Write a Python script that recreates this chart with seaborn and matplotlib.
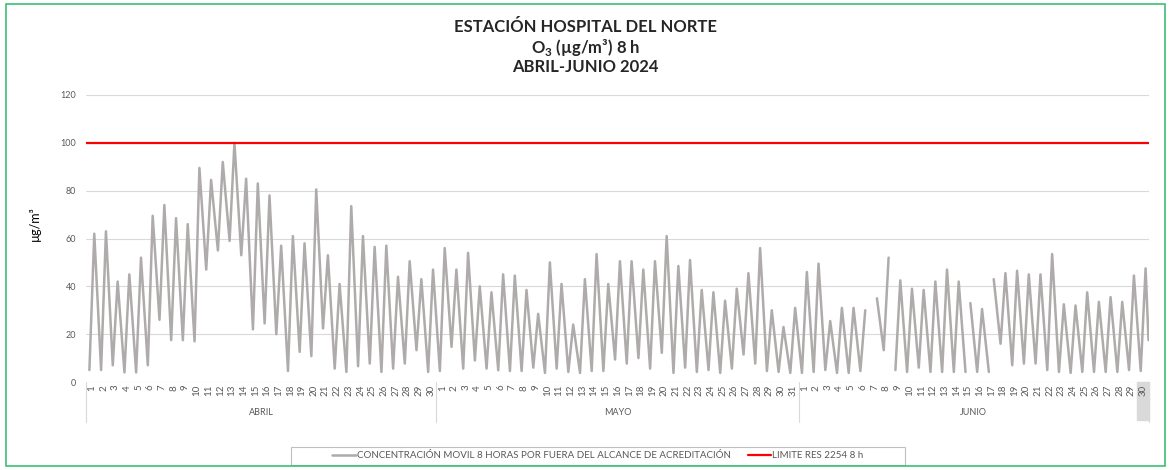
import numpy as np
import pandas as pd
import matplotlib.pyplot as plt
import matplotlib.transforms as mtransforms
from matplotlib.lines import Line2D
from matplotlib.patches import Rectangle
import seaborn as sns

# Valores (ug/m3): minimo de la madrugada y maximo de la tarde de cada dia
MESES = ["ABRIL", "MAYO", "JUNIO"]

ABRIL_MIN = [5, 5, 7, 4, 4, 7, 26, 17.5, 17.5, 17, 47, 55, 59, 53, 22,
             24.5, 20, 4.6, 12.6, 10.8, 22.4, 5.6, 4.2, 6.6, 7.7, 4.2, 5.6, 7.7, 13.3, 4.2]
ABRIL_MAX = [62, 63, 42, 45, 52, 69.5, 74, 68.5, 66, 89.5, 84.5, 92, 100, 85, 83,
             78, 57, 61, 58, 80.5, 53, 41, 73.5, 61, 56.5, 57, 44, 50.5, 43, 47]

MAYO_MIN = [4.6, 14.7, 5.6, 9, 5.6, 4.9, 4.6, 4.6, 6, 3.8, 5.6, 4.2, 3.8, 4.6, 4.6, 9.4,
            7.7, 10, 5.6, 12.2, 3.8, 6, 4.2, 5, 3.8, 5.6, 11.5, 7.7, 4.6, 4.2, 3.8]
MAYO_MAX = [56, 47, 54, 40, 37.5, 45, 44.5, 38.5, 28.5, 50, 41, 24, 43, 53.5, 41, 50.5,
            50.5, 47, 50.5, 61, 48.5, 51, 38.5, 37.5, 34, 39, 45.5, 56, 30, 23, 31]

JUNIO_MIN = [3.8, 4.2, 5, 3.8, 3.8, 4.6, np.nan, 13.3, 5, 4.2, 6, 4.2, 4.2, 4.2, 4.2,
             4.2, 4.2, 16, 7, 7.7, 7.7, 5, 4.2, 3.8, 4.2, 4.2, 4.2, 4.2, 5, 4.6]
JUNIO_MAX = [46, 49.5, 25.5, 31, 31, 30, 35, 52, 42.5, 39, 38.5, 42, 47, 42, 33,
             30.5, 43, 45.5, 46.5, 45, 45, 53.5, 32.5, 32, 37.5, 33.5, 35.5, 33.5, 44.5, 47.5]

VALOR_FINAL = 17.5   # ultimo dato del 30 de junio
LIMITE = 100         # limite Res. 2254 (8 h)

# horas sin dato (mes, dia, hora)
HUECOS = [("JUNIO", 8, 21), ("JUNIO", 15, 11), ("JUNIO", 17, 11)]

HORA_MIN = 7
HORA_MAX = 17

GRIS = "#AFABAB"
ROJO = "#FF0000"
TEXTO = "#595959"
REJILLA = "#D9D9D9"

# ---- armar la serie ----
inicio = {}
filas = []
dia0 = 0
for mes, mins, maxs in zip(MESES, [ABRIL_MIN, MAYO_MIN, JUNIO_MIN], [ABRIL_MAX, MAYO_MAX, JUNIO_MAX]):
    inicio[mes] = dia0
    for i, (lo, hi) in enumerate(zip(mins, maxs)):
        filas.append((dia0 + i + HORA_MIN / 24, lo))
        filas.append((dia0 + i + HORA_MAX / 24, hi))
    dia0 += len(mins)
total_dias = dia0
filas.append((total_dias - 1 + 23 / 24, VALOR_FINAL))
for mes, dia, hora in HUECOS:
    filas.append((inicio[mes] + dia - 1 + hora / 24, np.nan))

df = pd.DataFrame(filas, columns=["dia", "o3"]).sort_values("dia")
df["tramo"] = df["o3"].isna().cumsum()
df = df.dropna()

# ---- figura ----
sns.set_style("white")
plt.rcParams["font.family"] = ["Lato", "DejaVu Sans"]
plt.rcParams["mathtext.fontset"] = "custom"
plt.rcParams["mathtext.bf"] = "Lato:bold"
plt.rcParams["mathtext.rm"] = "Lato:bold"

fig = plt.figure(figsize=(11.71, 4.70), dpi=100)
ax = fig.add_axes([86 / 1171, 88 / 470, 1063 / 1171, 287 / 470])

sns.lineplot(data=df, x="dia", y="o3", units="tramo", estimator=None, sort=False,
             color=GRIS, lw=1.8, ax=ax, legend=False,
             solid_joinstyle="round", solid_capstyle="round")
ax.axhline(LIMITE, color=ROJO, lw=1.6, zorder=3)

ax.set_xlim(0, total_dias)
ax.set_ylim(0, 120)
ax.set_yticks(range(0, 121, 20))
ax.grid(axis="y", color=REJILLA, lw=0.8)
ax.grid(axis="x", visible=False)
ax.set_axisbelow(True)
for s in ax.spines.values():
    s.set_visible(False)
ax.set_xlabel("")
ax.set_ylabel("")

# etiquetas de dias
etiquetas = []
for mes, n in zip(MESES, [len(ABRIL_MIN), len(MAYO_MIN), len(JUNIO_MIN)]):
    etiquetas += [str(d) for d in range(1, n + 1)]
ax.set_xticks(np.arange(total_dias) + 0.5)
ax.set_xticklabels(etiquetas, rotation=90)
ax.tick_params(axis="x", length=0, pad=2, labelsize=7, labelcolor=TEXTO)
ax.tick_params(axis="y", length=0, pad=7, labelsize=6.5, labelcolor=TEXTO)

trans = mtransforms.blended_transform_factory(ax.transData, ax.transAxes)
# seleccion gris del ultimo dia (como en la hoja de calculo)
ax.add_patch(Rectangle((total_dias - 1, -0.133), 1, 0.133, transform=trans,
                       color="#D9D9D9", clip_on=False, zorder=0))
limites = [0]
for n in [len(ABRIL_MIN), len(MAYO_MIN), len(JUNIO_MIN)]:
    limites.append(limites[-1] + n)
for b in limites:
    ax.plot([b, b], [0, -0.14], transform=trans, color=REJILLA, lw=0.8, clip_on=False)
for mes, a, b in zip(MESES, limites[:-1], limites[1:]):
    ax.text((a + b) / 2, -0.105, mes, transform=trans, ha="center", va="center",
            fontsize=6.5, color=TEXTO)

fig.text(35 / 1171, 1 - 224 / 470, "µg/m³", rotation=90, ha="center", va="center",
         fontsize=9, color="#000000")

# titulo
fig.text(0.5, 1 - 27 / 470, "ESTACIÓN HOSPITAL DEL NORTE", ha="center", va="center",
         fontsize=12, weight="bold")
fig.text(0.5, 1 - 47 / 470, r"O$_{\mathbf{3}}$ (µg/m³) 8 h", ha="center", va="center",
         fontsize=12, weight="bold")
fig.text(0.5, 1 - 67 / 470, "ABRIL-JUNIO 2024", ha="center", va="center",
         fontsize=12, weight="bold")

# leyenda
handles = [Line2D([], [], color=GRIS, lw=1.8), Line2D([], [], color=ROJO, lw=1.6)]
labels = ["CONCENTRACIÓN MOVIL 8 HORAS POR FUERA DEL ALCANCE DE ACREDITACIÓN",
          "LIMITE RES 2254 8 h"]
fig.legend(handles, labels, loc="center", bbox_to_anchor=(598 / 1171, 1 - 456 / 470),
           ncol=2, frameon=False, fontsize=7, handlelength=2.4, handletextpad=0.1,
           columnspacing=1.8, labelcolor=TEXTO)
fig.add_artist(Rectangle((291 / 1171, 1 - 465 / 470), 614 / 1171, 18 / 470,
                         transform=fig.transFigure, fill=False, edgecolor="#BFBFBF", lw=0.8))

# borde verde del grafico
fig.add_artist(Rectangle((6 / 1171, 4 / 470), 1159 / 1171, 462 / 470,
                         transform=fig.transFigure, fill=False, edgecolor="#3CC073", lw=1.2))

fig.savefig("out.png", dpi=100)
